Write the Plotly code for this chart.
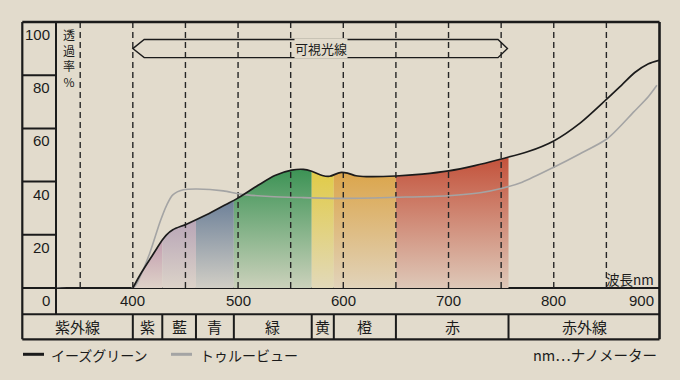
import plotly.graph_objects as go

# ---------------- data ----------------
wl_ez = [400, 407, 419, 428, 432, 438, 451, 470, 488, 499, 519, 535, 551, 562, 570, 580, 587,
         597, 604, 612, 622, 650, 675, 700, 725, 750, 775, 800, 825, 850, 865, 877, 890, 900]
tr_ez = [0, 5, 12.5, 18, 20, 21.9, 24, 27.5, 31.3, 33.6, 38.6, 42.3, 44.3, 44.6, 43.9, 42.3, 42.0,
         43.4, 43.2, 42.2, 41.9, 42.1, 42.8, 44.0, 46.0, 48.5, 51.2, 55.3, 62.0, 70.9, 76.5, 81.0, 84.3, 85.6]

wl_tv = [327, 400, 407, 416, 426, 432, 438, 448, 461, 486, 502, 530, 560, 600, 650, 700, 730,
         751, 770, 800, 825, 851, 876, 890, 898]
tr_tv = [0, 0, 4.4, 13, 25, 31, 35, 36.9, 37.2, 36.5, 35.3, 34.4, 34.0, 33.7, 34.1, 34.7, 35.8,
         37.5, 39.8, 45.4, 50.5, 56.2, 66.2, 72, 76.2]

band_edges = [400, 428, 460, 496, 570, 591, 650, 757]
band_colors = ["#c29caf", "#b7a4b6", "#6b7f98", "#3c9355", "#e1cb47", "#dba54b", "#c3513a"]
band_fade_top = [18, 26, 33.5, 44.6, 44.0, 43.7, 49.5]

table_labels = ["紫外線", "紫", "藍", "青", "緑", "黄", "橙", "赤", "赤外線"]
x_ticks = [400, 500, 600, 700, 800, 900]
y_ticks = [100, 80, 60, 40, 20]
grid_nm = [350, 400, 450, 500, 550, 600, 650, 700, 750, 800, 850]
y_title = "透<br>過<br>率<br>%"
visible_range = [400, 756]

# ---------------- geometry / style ----------------
BG = "#e2dbcc"
INK = "#1b1b1b"
GRAY = "#a4a4a4"
X0, X1 = 327, 900
W, H = 680, 380
ML, MR, MT, MB = 56, 21, 22, 92
PW = W - ML - MR
PH = H - MT - MB
NUMF = "Liberation Sans, Arial, sans-serif"
JPF = "Noto Sans CJK JP, sans-serif"


def xp(px):
    return (px - ML) / PW


def yp(py):
    return (H - MB - py) / PH


def nm2p(v):
    return (v - X0) / (X1 - X0)


def mix(c, bg, t):
    a = [int(c[i:i + 2], 16) for i in (1, 3, 5)]
    b = [int(bg[i:i + 2], 16) for i in (1, 3, 5)]
    m = [round(a[k] * (1 - t) + b[k] * t) for k in range(3)]
    return "rgb(%d,%d,%d)" % tuple(m)


fig = go.Figure()
# main (empty) subplot, used as reference for shapes / annotations
fig.add_trace(go.Scatter(x=[], y=[], xaxis="x", yaxis="y", showlegend=False, hoverinfo="skip"))

layout_axes = {}
# colour bands: each band is the area under the black curve, clipped by its own x-axis
for i in range(len(band_colors)):
    a, b = band_edges[i], band_edges[i + 1]
    ax = "x%d" % (i + 2)
    fig.add_trace(go.Scatter(
        x=wl_ez, y=tr_ez, xaxis=ax, yaxis="y", mode="lines",
        line=dict(width=0, shape="spline", smoothing=0.8),
        fill="tozeroy",
        fillgradient=dict(type="vertical",
                          colorscale=[[0, mix(band_colors[i], BG, 0.86)], [1, band_colors[i]]],
                          start=0, stop=band_fade_top[i]),
        showlegend=False, hoverinfo="skip"))
    layout_axes["xaxis%d" % (i + 2)] = dict(range=[a, b], domain=[nm2p(a), nm2p(b)],
                                            visible=False, anchor="y", fixedrange=True)

# top layer: grid + curves on a full-width axis drawn after the band subplots
TOP = "x%d" % (len(band_colors) + 2)
gx, gy = [], []
for g in grid_nm:
    gx += [g, g, None]
    gy += [100, 0, None]
fig.add_trace(go.Scatter(x=gx, y=gy, xaxis=TOP, yaxis="y", mode="lines",
                         line=dict(color="#262626", width=1.4, dash="6px,4px"),
                         showlegend=False, hoverinfo="skip"))
fig.add_trace(go.Scatter(x=wl_tv, y=tr_tv, xaxis=TOP, yaxis="y", mode="lines",
                         line=dict(color=GRAY, width=1.6, shape="spline", smoothing=0.8),
                         name="トゥルービュー", showlegend=False))
fig.add_trace(go.Scatter(x=wl_ez, y=tr_ez, xaxis=TOP, yaxis="y", mode="lines",
                         line=dict(color=INK, width=1.7, shape="spline", smoothing=0.8),
                         name="イーズグリーン", showlegend=False))
layout_axes["xaxis%d" % (len(band_colors) + 2)] = dict(range=[X0, X1], domain=[0, 1],
                                                       visible=False, anchor="y", fixedrange=True)

shapes = []


def pline(x0, y0, x1, y1, w=2, color=INK, layer="above", xref="paper", yref="paper"):
    shapes.append(dict(type="line", x0=x0, y0=y0, x1=x1, y1=y1, xref=xref, yref=yref,
                       line=dict(color=color, width=w), layer=layer))


L = xp(22.3)
R = xp(659.5)
ROW1 = yp(314.3)
ROW2 = yp(339.3)
pline(L, 1, R, 1, 2.3)                 # top
pline(R, ROW2, R, 1, 2.6)              # right
pline(L, ROW2, L, 1, 2.2)              # left outer
pline(0, ROW1, 0, 1, 2)                # y column separator
pline(L, 0, R, 0, 2, layer="below")    # zero line
pline(L, ROW1, R, ROW1, 2)
pline(L, ROW2, R, ROW2, 2.2)
for t in y_ticks[1:]:
    shapes.append(dict(type="line", x0=L, x1=0, y0=t, y1=t, xref="paper", yref="y",
                       line=dict(color=INK, width=2)))
for e in band_edges:
    pline(nm2p(e), ROW2, nm2p(e), ROW1, 2)

# visible-light arrow
va, vb = visible_range
shapes.append(dict(type="path", xref="x", yref="y",
                   path="M%g,90 L%g,93.4 L%g,93.4 L%g,90 L%g,86.6 L%g,86.6 Z" % (
                       va, va + 10.8, vb - 9, vb, vb - 9, va + 10.8),
                   line=dict(color=INK, width=1.4), fillcolor="rgba(0,0,0,0)"))

# legend samples
pline(xp(23), yp(354.3), xp(44), yp(354.3), 3, INK)
pline(xp(171), yp(354.3), xp(192), yp(354.3), 3, GRAY)

ann = []
for t in y_ticks:
    ann.append(dict(x=xp(52), y=t, xref="paper", yref="y", text=str(t), showarrow=False,
                    xanchor="right", yanchor="middle", yshift=-12.5,
                    font=dict(family=NUMF, size=15, color=INK)))
ann.append(dict(x=xp(52), y=yp(300.5), xref="paper", yref="paper", text="0", showarrow=False,
                xanchor="right", yanchor="middle", font=dict(family=NUMF, size=15, color=INK)))
for t in x_ticks:
    last = t == x_ticks[-1]
    ann.append(dict(x=xp(656) if last else nm2p(t), y=yp(300.5), xref="paper", yref="paper",
                    text=str(t), showarrow=False, xanchor="right" if last else "center",
                    yanchor="middle", font=dict(family=NUMF, size=15, color=INK)))

cell_edges = [None] + band_edges + [None]
for i, lab in enumerate(table_labels):
    a = L if cell_edges[i] is None else nm2p(cell_edges[i])
    b = R if cell_edges[i + 1] is None else nm2p(cell_edges[i + 1])
    ann.append(dict(x=(a + b) / 2, y=(ROW1 + ROW2) / 2, xref="paper", yref="paper", text=lab,
                    showarrow=False, xanchor="center", yanchor="middle",
                    font=dict(family=JPF, size=15, color=INK)))

ann.append(dict(x=xp(68.5), y=yp(25), xref="paper", yref="paper", text=y_title,
                showarrow=False, xanchor="center", yanchor="top", borderpad=0,
                font=dict(family=JPF, size=12, color=INK)))

ann.append(dict(x=(va + vb) / 2 + 1, y=90, xref="x", yref="y", text="可視光線", showarrow=False,
                xanchor="center", yanchor="middle", bgcolor=BG, borderpad=0,
                font=dict(family=JPF, size=13, color=INK)))
ann.append(dict(x=xp(656), y=yp(278.5), xref="paper", yref="paper", text="波長nm",
                showarrow=False, xanchor="right", yanchor="middle",
                font=dict(family=JPF, size=13.5, color=INK)))
ann.append(dict(x=xp(49), y=yp(354.8), xref="paper", yref="paper", text="イーズグリーン",
                showarrow=False, xanchor="left", yanchor="middle",
                font=dict(family=JPF, size=14, color=INK)))
ann.append(dict(x=xp(198), y=yp(354.8), xref="paper", yref="paper", text="トゥルービュー",
                showarrow=False, xanchor="left", yanchor="middle",
                font=dict(family=JPF, size=14, color=INK)))
ann.append(dict(x=xp(659), y=yp(354.8), xref="paper", yref="paper", text="nm…ナノメーター",
                showarrow=False, xanchor="right", yanchor="middle",
                font=dict(family=JPF, size=14.5, color=INK)))

fig.update_layout(
    width=W, height=H, margin=dict(l=ML, r=MR, t=MT, b=MB, pad=0),
    paper_bgcolor=BG, plot_bgcolor="rgba(0,0,0,0)", showlegend=False,
    xaxis=dict(range=[X0, X1], domain=[0, 1], visible=False, fixedrange=True),
    yaxis=dict(range=[0, 100], domain=[0, 1], visible=False, fixedrange=True),
    shapes=shapes, annotations=ann, **layout_axes,
)

fig.write_html("out.html", config={"displayModeBar": False},
               post_script="document.body.style.margin='0';document.body.style.background='%s';" % BG)
